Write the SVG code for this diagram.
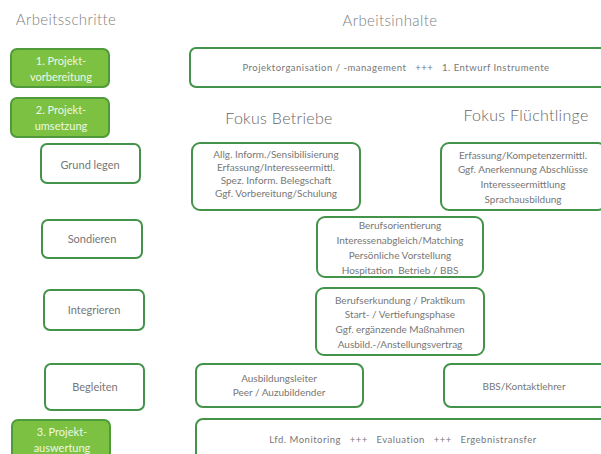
<svg xmlns="http://www.w3.org/2000/svg" width="601" height="454" viewBox="0 0 601 454">
<style>
text{font-family:Lato,"Open Sans","Liberation Sans",sans-serif;text-anchor:middle;fill:#7a7a7a;white-space:pre}
.h{font-size:15px;letter-spacing:0.4px;fill:#808080;font-weight:300}
.f{font-size:16px;letter-spacing:0.3px;fill:#666;font-weight:300}
.g rect{fill:#7cc142;stroke:#4f9a3a;stroke-width:2}
.g text{fill:#eef8e4;font-size:11px}
.b rect{fill:#fff;stroke:#43934a;stroke-width:2}
.b text{font-size:10px;fill:#777}
.b text.l{font-size:11px}
.b text.w{letter-spacing:0.5px;font-size:9.5px}
</style>
<rect width="601" height="454" fill="#fff"/>
<text class="h" x="66" y="25">Arbeitsschritte</text>
<text class="h" x="390" y="26">Arbeitsinhalte</text>
<text class="f" x="279" y="124">Fokus Betriebe</text>
<text class="f" x="526" y="121">Fokus Flüchtlinge</text>

<g id="schritt1" class="g"><rect x="11" y="49" width="98" height="38" rx="6"/><text x="61" y="65">1. Projekt-</text><text x="61" y="81">vorbereitung</text></g>
<g id="schritt2" class="g"><rect x="11" y="98" width="98" height="39" rx="6"/><text x="61" y="114">2. Projekt-</text><text x="61" y="130">umsetzung</text></g>
<g id="schritt3" class="g"><rect x="12" y="420" width="98" height="44" rx="6"/><text x="62" y="436">3. Projekt-</text><text x="62" y="452">auswertung</text></g>

<g id="top" class="b"><rect x="190" y="48" width="418" height="39" rx="6"/><text class="w" x="396" y="71">Projektorganisation / -management   +++   1. Entwurf Instrumente</text></g>

<g id="grund" class="b"><rect x="41" y="144" width="99" height="39" rx="6"/><text class="l" x="90" y="169">Grund legen</text></g>
<g id="sondieren" class="b"><rect x="42" y="220" width="100" height="38" rx="6"/><text class="l" x="92" y="243">Sondieren</text></g>
<g id="integrieren" class="b"><rect x="44" y="290" width="100" height="40" rx="6"/><text class="l" x="94" y="314">Integrieren</text></g>
<g id="begleiten" class="b"><rect x="45" y="364" width="99" height="46" rx="6"/><text class="l" x="95" y="391">Begleiten</text></g>

<g id="betriebe1" class="b"><rect x="192" y="143" width="168" height="67" rx="8"/>
<text x="276" y="158">Allg. Inform./Sensibilisierung</text>
<text x="276" y="171">Erfassung/Interesseermittl.</text>
<text x="276" y="184">Spez. Inform. Belegschaft</text>
<text x="276" y="197">Ggf. Vorbereitung/Schulung</text></g>

<g id="fluechtlinge1" class="b"><rect x="441" y="143" width="165" height="67" rx="8"/>
<text x="523" y="159">Erfassung/Kompetenzermittl.</text>
<text x="523" y="173">Ggf. Anerkennung Abschlüsse</text>
<text x="523" y="188">Interesseermittlung</text>
<text x="523" y="203">Sprachausbildung</text></g>

<g id="sondieren-inhalt" class="b"><rect x="317" y="217" width="166" height="60" rx="8"/>
<text x="400" y="228.5">Berufsorientierung</text>
<text x="400" y="243.5">Interessenabgleich/Matching</text>
<text x="400" y="258.5">Persönliche Vorstellung</text>
<text x="400" y="273.5">Hospitation  Betrieb / BBS</text></g>

<g id="integrieren-inhalt" class="b"><rect x="316" y="288" width="168" height="67" rx="8"/>
<text x="400" y="303.5">Berufserkundung / Praktikum</text>
<text x="400" y="318">Start- / Vertiefungsphase</text>
<text x="400" y="333">Ggf. ergänzende Maßnahmen</text>
<text x="400" y="348">Ausbild.-/Anstellungsvertrag</text></g>

<g id="begleiten-betrieb" class="b"><rect x="196" y="364" width="167" height="43" rx="7"/>
<text x="279" y="381.5">Ausbildungsleiter</text>
<text x="279" y="396">Peer / Auzubildender</text></g>

<g id="begleiten-fl" class="b"><rect x="444" y="364" width="164" height="43" rx="7"/>
<text x="524" y="390">BBS/Kontaktlehrer</text></g>

<g id="auswertung" class="b"><rect x="196" y="419" width="412" height="45" rx="7"/>
<text class="w" x="403" y="443">Lfd. Monitoring   +++   Evaluation   +++   Ergebnistransfer</text></g>

<g id="connectors"></g>
</svg>
